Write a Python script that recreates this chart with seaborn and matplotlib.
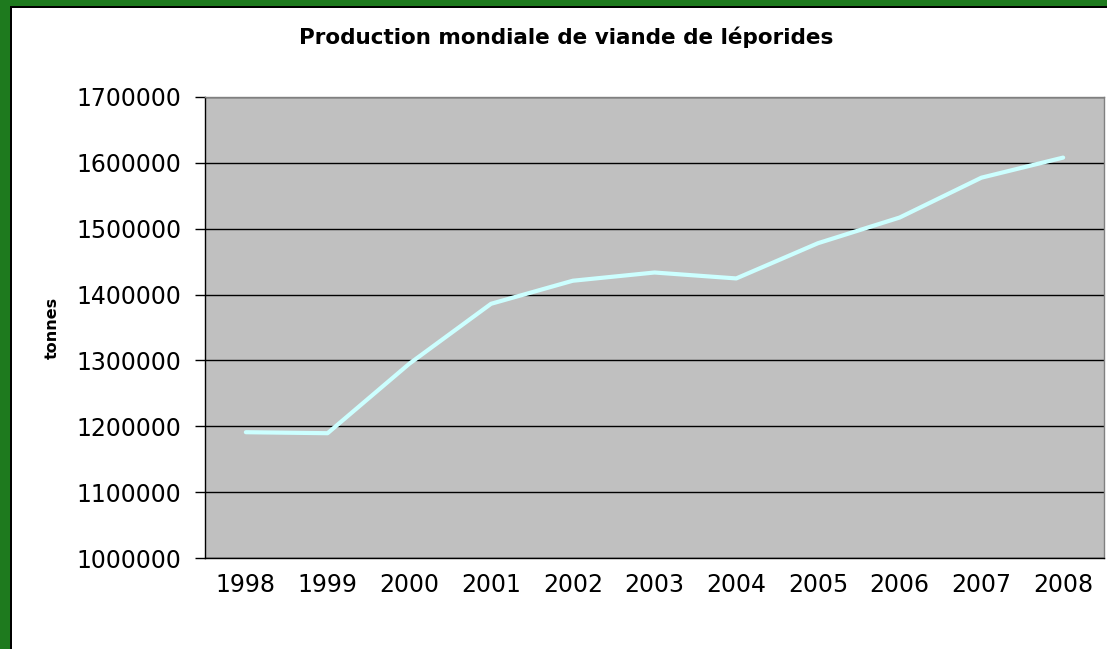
import matplotlib
matplotlib.use("Agg")
import matplotlib.pyplot as plt
from matplotlib.patches import Rectangle
import numpy as np
import pandas as pd
import seaborn as sns

# data (tonnes)
years = [1998, 1999, 2000, 2001, 2002, 2003, 2004, 2005, 2006, 2007, 2008]
production = [1191000, 1189500, 1295000, 1386000, 1421000, 1433500,
              1424500, 1478000, 1517000, 1577500, 1608000]
yticks = [1000000, 1100000, 1200000, 1300000, 1400000, 1500000, 1600000, 1700000]

df = pd.DataFrame({"year": years, "tonnes": production})

sns.set_style("white")
plt.rcParams['font.family'] = ['DejaVu Sans']
plt.rcParams['text.color'] = 'black'
plt.rcParams['xtick.color'] = 'black'
plt.rcParams['ytick.color'] = 'black'
plt.rcParams['axes.labelcolor'] = 'black'

fig = plt.figure(figsize=(11.07, 6.49), dpi=100, facecolor="white")
ax = fig.add_axes([205/1107, 1 - 558/649, (1104 - 205)/1107, (558 - 97)/649])
ax.set_facecolor("#C0C0C0")

sns.lineplot(data=df, x="year", y="tonnes", ax=ax, color="#CCFFFF",
             linewidth=3.0, zorder=3)

ax.set_ylim(1000000, 1700000)
ax.set_xlim(years[0] - 0.5, years[-1] + 0.5)
ax.set_yticks(yticks)
ax.set_yticklabels([str(v) for v in yticks], fontsize=17)
ax.set_xticks(years)
ax.set_xticklabels([str(y) for y in years], fontsize=17)
ax.set_xticks([y - 0.5 for y in years] + [years[-1] + 0.5], minor=True)
ax.tick_params(axis="x", which="major", length=0, pad=11)
ax.tick_params(axis="x", which="minor", length=7, width=1, color="black",
               direction="out")
ax.tick_params(axis="y", length=7, width=1, color="black", direction="out",
               pad=10, left=True)

ax.yaxis.grid(True, color="black", linewidth=1)
ax.xaxis.grid(False)
ax.set_axisbelow(True)

for side in ["left", "bottom"]:
    ax.spines[side].set_color("black")
    ax.spines[side].set_linewidth(1)
for side in ["top", "right"]:
    ax.spines[side].set_color("#808080")
    ax.spines[side].set_linewidth(1)

ax.set_xlabel("")
ax.set_ylabel("tonnes", fontsize=11.5, fontweight="bold", labelpad=12)

fig.text(566/1107, 1 - 37/649, "Production mondiale de viande de léporides",
         ha="center", va="center", fontsize=15.5, fontweight="bold")

# green frame on the left and top edges
green = "#1E7A1E"
fig.add_artist(Rectangle((0, 0), 10/1107, 1, transform=fig.transFigure,
                         facecolor=green, edgecolor="none"))
fig.add_artist(Rectangle((0, 1 - 6/649), 1, 6/649, transform=fig.transFigure,
                         facecolor=green, edgecolor="none"))
fig.add_artist(Rectangle((10/1107, 0), 2/1107, 1 - 6/649, transform=fig.transFigure,
                         facecolor="black", edgecolor="none"))
fig.add_artist(Rectangle((10/1107, 1 - 8/649), 1, 2/649, transform=fig.transFigure,
                         facecolor="black", edgecolor="none"))

fig.savefig("out.png", dpi=100, facecolor="white")
